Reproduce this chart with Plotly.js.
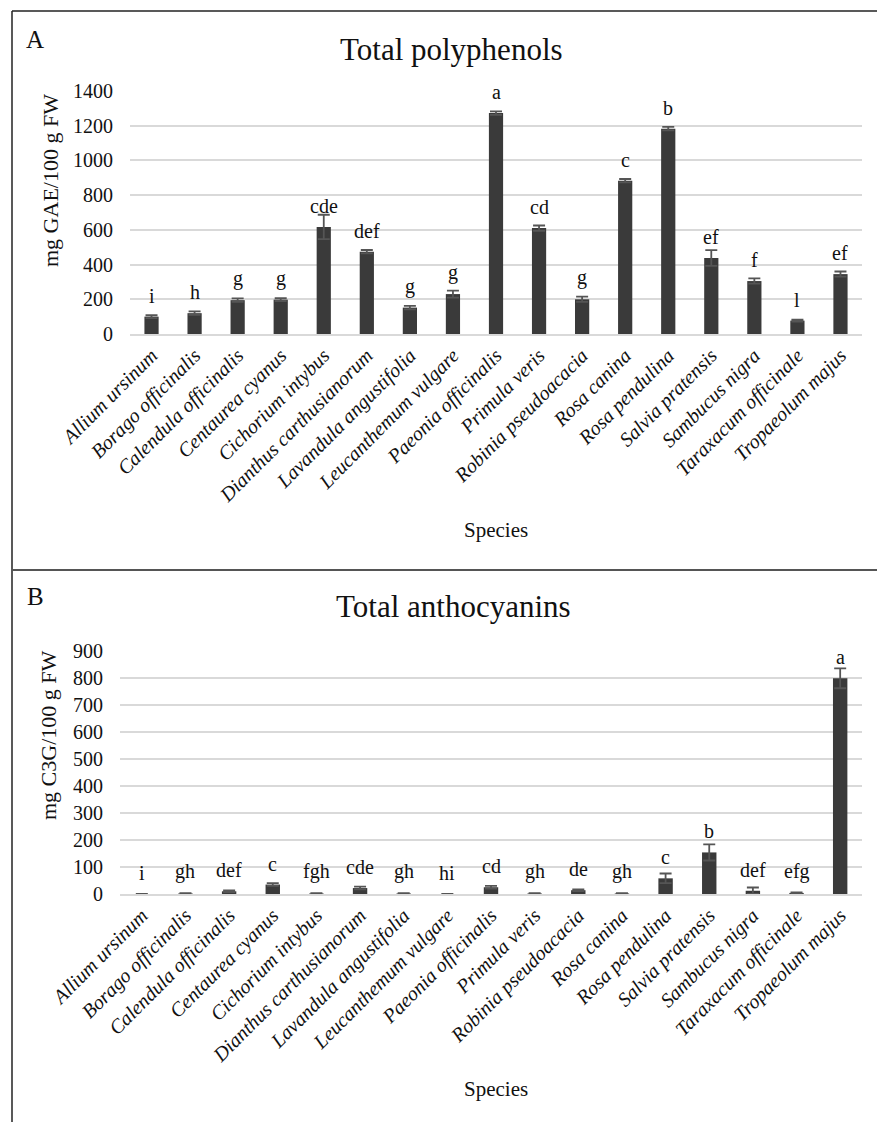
<!DOCTYPE html>
<html>
<head>
<meta charset="utf-8">
<script src="https://cdn.plot.ly/plotly-3.0.1.min.js"></script>
<style>
html,body{margin:0;padding:0;background:#fff;}
#chart{width:877px;height:1122px;}
</style>
</head>
<body>
<div id="chart"></div>
<script>
const species = ["Allium ursinum","Borago officinalis","Calendula officinalis","Centaurea cyanus","Cichorium intybus","Dianthus carthusianorum","Lavandula angustifolia","Leucanthemum vulgare","Paeonia officinalis","Primula veris","Robinia pseudoacacia","Rosa canina","Rosa pendulina","Salvia pratensis","Sambucus nigra","Taraxacum officinale","Tropaeolum majus"];

const polyphenols = [100, 120, 195, 198, 617, 474, 152, 230, 1273, 610, 200, 883, 1183, 438, 305, 77, 345];
const polyphenolsErr = [8, 10, 10, 8, 70, 10, 10, 20, 10, 15, 15, 10, 10, 45, 15, 5, 15];
const polyphenolsLetters = ["i","h","g","g","cde","def","g","g","a","cd","g","c","b","ef","f","l","ef"];

const anthocyanins = [0, 2, 10, 35, 2, 22, 2, 0, 25, 2, 14, 2, 58, 154, 12, 4, 799];
const anthocyaninsErr = [0, 1, 3, 5, 1, 5, 1, 0, 5, 1, 3, 1, 18, 30, 12, 2, 37];
const anthocyaninsLetters = ["i","gh","def","c","fgh","cde","gh","hi","cd","gh","de","gh","c","b","def","efg","a"];

const yTicksA = [0,200,400,600,800,1000,1200,1400];
const yTicksB = [0,100,200,300,400,500,600,700,800,900];

const W = 877, H = 1122;
const px = v => v / W;
const py = v => 1 - v / H;
const serif = "'Liberation Serif', 'Times New Roman', serif";
const barColor = "#3a3a3a";
const errColor = "#555555";
const gridColor = "#d9d9d9";
const txt = "#111111";

const traces = [
  {type:"bar", x:species, y:polyphenols, xaxis:"x", yaxis:"y", width:0.33,
   marker:{color:barColor},
   error_y:{type:"data", array:polyphenolsErr, visible:true, color:errColor, thickness:1.8, width:6},
   hoverinfo:"x+y", showlegend:false},
  {type:"bar", x:species, y:anthocyanins, xaxis:"x2", yaxis:"y2", width:0.33,
   marker:{color:barColor},
   error_y:{type:"data", array:anthocyaninsErr, visible:true, color:errColor, thickness:1.8, width:6},
   hoverinfo:"x+y", showlegend:false}
];

const annotations = [];
species.forEach((s,i)=>{
  annotations.push({xref:"x", yref:"y", x:s, y:polyphenols[i], text:polyphenolsLetters[i],
    showarrow:false, yanchor:"bottom", yshift:8, font:{family:serif, size:20, color:txt}});
  annotations.push({xref:"x2", yref:"y2", x:s, y:anthocyanins[i], text:anthocyaninsLetters[i],
    showarrow:false, yanchor:"bottom", yshift:8, font:{family:serif, size:20, color:txt}});
});
function paperText(text, x, y, size, extra) {
  annotations.push(Object.assign({xref:"paper", yref:"paper", x:px(x), y:py(y), xanchor:"center", yanchor:"middle",
    text:text, showarrow:false, font:{family:serif, size:size, color:txt}}, extra || {}));
}
paperText("A", 35, 39, 25);
paperText("B", 35, 596, 25);
paperText("Total polyphenols", 451, 50, 31);
paperText("Total anthocyanins", 453, 606, 31);
paperText("Species", 496, 530, 21);
paperText("Species", 496, 1089, 21);
paperText("mg GAE/100 g FW", 50, 181, 22, {textangle:-90});
paperText("mg C3G/100 g FW", 48, 735, 22, {textangle:-90});

const xaxisBase = {
  type:"category", tickangle:-45, showgrid:false, zeroline:false,
  showline:true, linecolor:gridColor, linewidth:2, ticks:"",
  tickfont:{family:serif, size:20, color:txt, style:"italic"}
};
const yaxisBase = {
  showgrid:true, gridcolor:gridColor, gridwidth:2, zeroline:false, showline:false,
  ticks:"", ticklabelstandoff:16, tickfont:{family:serif, size:20, color:txt}
};

const layout = {
  width:W, height:H,
  margin:{l:0, r:0, t:0, b:0},
  paper_bgcolor:"#fff", plot_bgcolor:"#fff",
  xaxis:Object.assign({}, xaxisBase, {domain:[px(130), px(862)], anchor:"y"}),
  yaxis:Object.assign({}, yaxisBase, {domain:[py(334), py(91)], range:[0,1400], tickvals:yTicksA, anchor:"x"}),
  xaxis2:Object.assign({}, xaxisBase, {domain:[px(120), px(862)], anchor:"y2"}),
  yaxis2:Object.assign({}, yaxisBase, {domain:[py(894), py(651)], range:[0,900], tickvals:yTicksB, anchor:"x2"}),
  annotations:annotations,
  shapes:[
    {type:"line", xref:"paper", yref:"paper", x0:px(12), x1:1, y0:py(11), y1:py(11), line:{color:"#222", width:1.5}},
    {type:"line", xref:"paper", yref:"paper", x0:px(12), x1:px(12), y0:py(11), y1:0, line:{color:"#222", width:1.5}},
    {type:"line", xref:"paper", yref:"paper", x0:px(12), x1:1, y0:py(570), y1:py(570), line:{color:"#555", width:2}}
  ]
};

Plotly.newPlot("chart", traces, layout, {staticPlot:true, displayModeBar:false});
</script>
</body>
</html>
